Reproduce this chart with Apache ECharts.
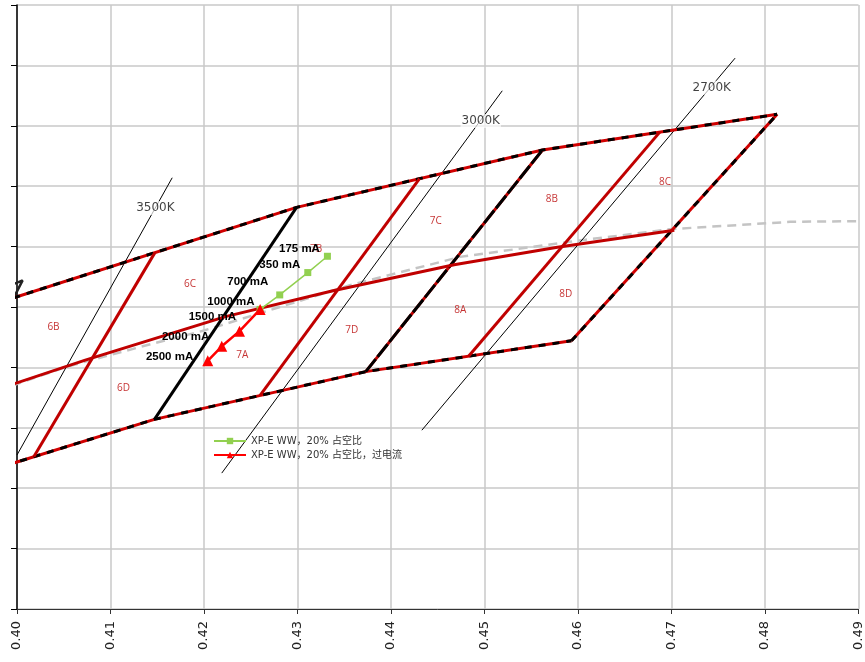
<!DOCTYPE html>
<html>
<head>
<meta charset="utf-8">
<title>XP-E WW 色坐标分档</title>
<script src="https://cdn.jsdelivr.net/npm/echarts/dist/echarts.min.js"></script>
<style>
  html, body { margin: 0; padding: 0; background: #fff; }
  #chart { width: 865px; height: 662px; }
</style>
</head>
<body>
<div id="chart"></div>
<script>
// ---- axis ticks ----
const xTicks = [0.40, 0.41, 0.42, 0.43, 0.44, 0.45, 0.46, 0.47, 0.48, 0.49];
const yTicks = [0.35, 0.36, 0.37, 0.38, 0.39, 0.40, 0.41, 0.42, 0.43, 0.44, 0.45];

// ---- ANSI bin outlines (CIE x, y) ----
const topEdge    = [[0.3996, 0.4015], [0.4299, 0.4165], [0.4562, 0.4260], [0.4813, 0.4319]];
const bottomEdge = [[0.3889, 0.3690], [0.4147, 0.3814], [0.4373, 0.3893], [0.4593, 0.3944]];
const leftEdge   = [[0.3889, 0.3690], [0.3996, 0.4015]];
const rightEdge  = [[0.4593, 0.3944], [0.4813, 0.4319]];
const edge4000K  = [[0.3736, 0.3874], [0.4006, 0.4044], [0.3898, 0.3716]];
const border3500to3000 = [[0.4147, 0.3814], [0.4299, 0.4165]];
const border3000to2700 = [[0.4373, 0.3893], [0.4562, 0.4260]];

// sub-bin dividers
const divider6 = [[0.4018, 0.3752], [0.41475, 0.4090]];
const divider7 = [[0.4260, 0.38535], [0.44305, 0.42125]];
const divider8 = [[0.4483, 0.39185], [0.46875, 0.42895]];
const centerLine = [[0.3943, 0.3845], [0.4073, 0.3912], [0.4223, 0.3984], [0.4338, 0.4027],
                    [0.44675, 0.4070], [0.4578, 0.4099], [0.4703, 0.4127]];

// blackbody locus
const planckX = [0.3980, 0.4053, 0.4132, 0.4200, 0.4356, 0.4474, 0.4591, 0.4700, 0.4827, 0.4950];
const planckY = [0.3862, 0.3901, 0.3934, 0.3961, 0.4036, 0.4083, 0.4108, 0.4129, 0.4141, 0.4143];

// isotherm lines and their names
const isoNames = ['3500K', '3000K', '2700K'];
const isoLines = [
  [[0.4000, 0.3755], [0.4166, 0.4214]],
  [[0.4219, 0.3725], [0.4519, 0.4358]],
  [[0.4433, 0.3796], [0.4768, 0.4412]]
];
const isoLabelX = [0.4148, 0.4496, 0.4743];
const isoLabelY = [0.4164, 0.4308, 0.4363];

// sub-bin names
const binNames = ['6B', '6C', '6D', '7A', '7B', '7C', '7D', '8A', '8B', '8C', '8D'];
const binX = [0.4039, 0.4185, 0.4114, 0.4241, 0.4320, 0.4448, 0.4358, 0.4474, 0.4572, 0.4693, 0.4587];
const binY = [0.3967, 0.4038, 0.3866, 0.3921, 0.4096, 0.4142, 0.3962, 0.3995, 0.4179, 0.4207, 0.4022];

// measured points
const seriesNames = ['XP-E WW，20% 占空比', 'XP-E WW，20% 占空比，过电流'];
const greenCurrent = ['175 mA', '350 mA', '700 mA', ''];
const greenX = [0.4332, 0.4311, 0.4281, 0.4260];
const greenY = [0.4084, 0.4057, 0.4020, 0.3996];
const redCurrent = ['1000 mA', '1500 mA', '2000 mA', '2500 mA'];
const redX = [0.4260, 0.4238, 0.4219, 0.4204];
const redY = [0.3996, 0.3960, 0.3935, 0.3911];

// label nudges (pixels) for the current captions
const greenLabelShift = [[1, -7], [1, -8], [-3, -13], [0, 0]];
const redLabelShift = [[5, -8], [7, -14], [-2, -9], [-4, -4]];

const BIN_RED = '#c00000';
const EDGE_RED = '#d00000';

function plain(name, pts, color, width, type, z) {
  return {
    name: name, type: 'line', data: pts, showSymbol: false, symbol: 'none',
    clip: true, silent: true, z: z,
    lineStyle: { color: color, width: width, type: type, cap: 'butt' }
  };
}

// outline drawn as red base with black dashes on top
function dashedEdge(pts, dash, z) {
  return [
    plain('', pts, EDGE_RED, 3, 'solid', z),
    plain('', pts, '#000', 3, dash, z + 0.1)
  ];
}

const series = [];
series.push(plain('', planckX.map((x, i) => [x, planckY[i]]), '#c4c4c4', 2.5, [9, 6], 2));
isoLines.forEach(l => series.push(plain('', l, '#000', 1, 'solid', 3)));
series.push(plain('', edge4000K, '#222', 2.5, 'solid', 4));
[topEdge, bottomEdge, leftEdge, rightEdge].forEach(e => series.push(...dashedEdge(e, [7, 7], 5)));
series.push(plain('', border3500to3000, '#000', 3, 'solid', 5));
series.push(plain('', border3000to2700, BIN_RED, 3, 'solid', 5));
series.push(plain('', border3000to2700, '#000', 3, [16, 3], 5.1));
[divider6, divider7, divider8, centerLine].forEach(d => series.push(plain('', d, BIN_RED, 3, 'solid', 6)));

// isotherm captions
series.push({
  type: 'scatter', silent: true, symbolSize: 0, z: 7,
  data: isoNames.map((n, i) => ({ name: n, value: [isoLabelX[i], isoLabelY[i]] })),
  label: {
    show: true, position: 'inside', formatter: p => p.name,
    fontFamily: 'DejaVu Sans', fontSize: 12, color: '#111',
    backgroundColor: 'rgba(255,255,255,0.85)', padding: [1, 1]
  }
});

// sub-bin captions
series.push({
  type: 'scatter', silent: true, symbolSize: 0, z: 7,
  data: binNames.map((n, i) => ({ name: n, value: [binX[i], binY[i]] })),
  label: {
    show: true, position: 'inside', formatter: p => p.name,
    fontFamily: 'Open Sans', fontSize: 10, color: '#b80000'
  }
});

function measured(name, xs, ys, captions, shifts, color, width, symbol, size) {
  return {
    name: name, type: 'line', z: 10, clip: true,
    symbol: symbol, symbolSize: size, showSymbol: true,
    lineStyle: { color: color, width: width },
    itemStyle: { color: color },
    data: xs.map((x, i) => ({
      value: [x, ys[i]],
      label: {
        show: captions[i] !== '', position: 'left', distance: 5,
        offset: shifts[i], formatter: captions[i],
        fontFamily: 'Liberation Sans', fontWeight: 'bold', fontSize: 11.5, color: '#000'
      }
    }))
  };
}
series.push(measured(seriesNames[0], greenX, greenY, greenCurrent, greenLabelShift, '#92d050', 1.5, 'rect', 7));
series.push(measured(seriesNames[1], redX, redY, redCurrent, redLabelShift, '#ff0000', 2.5, 'triangle', 11));

const chart = echarts.init(document.getElementById('chart'), null, { renderer: 'canvas' });
chart.setOption({
  animation: false,
  backgroundColor: '#fff',
  grid: { left: 17, top: 5, right: 6, bottom: 53, containLabel: false },
  legend: {
    data: seriesNames,
    orient: 'vertical', left: 213, top: 436, padding: 0,
    itemWidth: 32, itemHeight: 8, itemGap: 4,
    textStyle: { fontFamily: "'DejaVu Sans', 'Noto Sans CJK SC'", fontSize: 10, color: '#333', lineHeight: 10 }
  },
  xAxis: {
    type: 'value', min: xTicks[0], max: xTicks[xTicks.length - 1], interval: 0.01,
    axisLine: { onZero: false, lineStyle: { color: '#333', width: 1 } },
    axisTick: { show: true, length: 5, lineStyle: { color: '#333' } },
    axisLabel: {
      rotate: 90, margin: 12, fontFamily: 'DejaVu Sans', fontSize: 13, color: '#222',
      formatter: v => v.toFixed(2)
    },
    splitLine: { show: true, lineStyle: { color: '#c8c8c8', width: 1.5 } }
  },
  yAxis: {
    type: 'value', min: yTicks[0], max: yTicks[yTicks.length - 1], interval: 0.01,
    axisLine: { show: true, onZero: false, lineStyle: { color: '#000', width: 1.5 } },
    axisTick: { show: true, length: 6, lineStyle: { color: '#000' } },
    axisLabel: { show: false },
    splitLine: { show: true, lineStyle: { color: '#c8c8c8', width: 1.5 } }
  },
  series: series
});
</script>
</body>
</html>
